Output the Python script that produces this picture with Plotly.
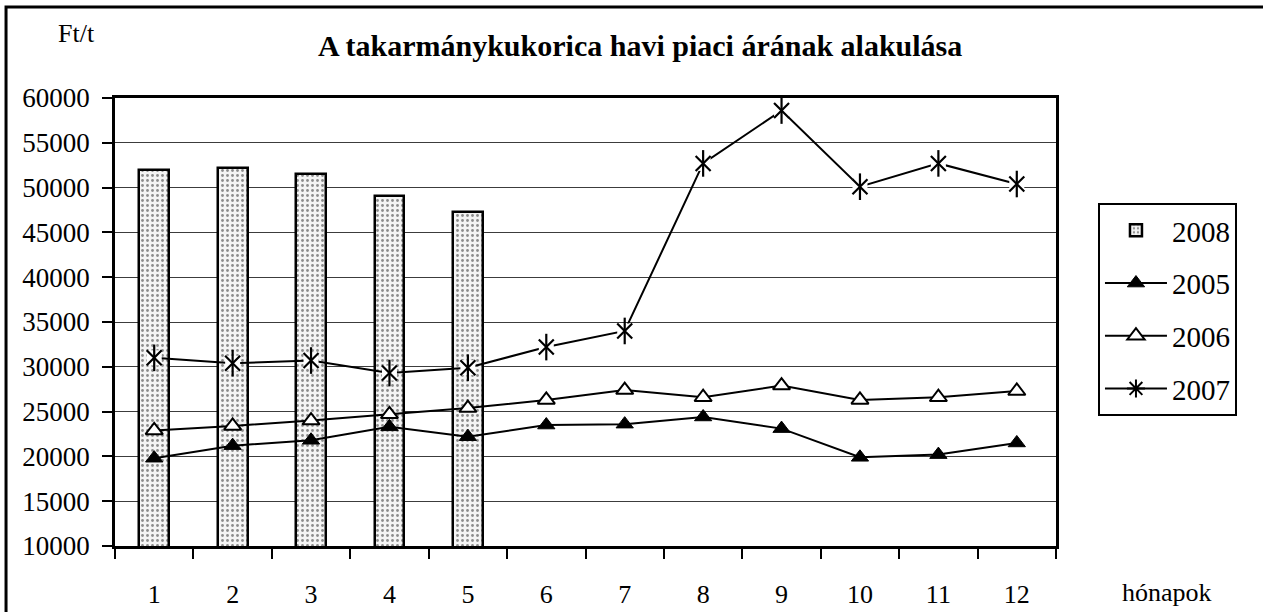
import plotly.graph_objects as go

months = [str(m) for m in range(1, 13)]
bar_months = months[:5]
v2008 = [52000, 52200, 51500, 49100, 47300]
v2005 = [19800, 21200, 21800, 23300, 22200, 23500, 23600, 24400, 23100, 19900, 20200, 21500]
v2006 = [22900, 23400, 24000, 24700, 25400, 26300, 27400, 26600, 27900, 26300, 26600, 27300]
v2007 = [31000, 30400, 30700, 29300, 29900, 32200, 34000, 52700, 58600, 50100, 52700, 50400]
y_ticks = [10000, 15000, 20000, 25000, 30000, 35000, 40000, 45000, 50000, 55000, 60000]

FONT = "Liberation Serif"
DOTS = dict(shape=".", fgcolor="#222", bgcolor="#f4f4f4", size=5, solidity=0.25)

fig = go.Figure()
fig.add_trace(go.Bar(
    x=bar_months, y=v2008, name="2008", width=0.38, legendgroup="g2008",
    marker=dict(color="white", line=dict(color="black", width=2.5), pattern=DOTS),
))
fig.add_trace(go.Scatter(
    x=months, y=v2005, name="2005", mode="lines+markers", legendgroup="g2005",
    line=dict(color="black", width=2),
    marker=dict(symbol="triangle-up", size=15, color="black", line=dict(color="black", width=1)),
))
fig.add_trace(go.Scatter(
    x=months, y=v2006, name="2006", mode="lines+markers", legendgroup="g2006",
    line=dict(color="black", width=2),
    marker=dict(symbol="triangle-up", size=15, color="white", line=dict(color="black", width=2)),
))
# 2007: line, white background behind marker, X and vertical bar
fig.add_trace(go.Scatter(
    x=months, y=v2007, name="2007", mode="lines", showlegend=False, legendgroup="g2007",
    line=dict(color="black", width=2),
))
fig.add_trace(go.Scatter(
    x=months, y=v2007, mode="markers", showlegend=False, hoverinfo="skip", legendgroup="g2007",
    marker=dict(symbol="square", size=15, color="white", line=dict(width=0)),
))
fig.add_trace(go.Scatter(
    x=months, y=v2007, mode="markers", showlegend=False, legendgroup="g2007",
    marker=dict(symbol="x-thin-open", size=15, color="black", line=dict(color="black", width=2.2)),
))
fig.add_trace(go.Scatter(
    x=months, y=v2007, mode="markers", showlegend=False, hoverinfo="skip", legendgroup="g2007",
    marker=dict(symbol="line-ns-open", size=19, color="black", line=dict(color="black", width=2.2)),
))
# legend entry for 2007
fig.add_trace(go.Scatter(
    x=[None], y=[None], name="2007", mode="lines+markers", legendgroup="g2007",
    line=dict(color="black", width=2),
    marker=dict(symbol="asterisk-open", size=15, color="black", line=dict(color="black", width=2)),
))

fig.update_layout(
    width=1263, height=612,
    margin=dict(l=115, r=207, t=98, b=66, autoexpand=False),
    paper_bgcolor="white", plot_bgcolor="white",
    font=dict(family=FONT, size=26, color="black"),
    showlegend=True,
    bargap=0,
    legend=dict(
        x=1.0446, y=0.7656, xanchor="left", yanchor="top",
        bordercolor="black", borderwidth=2, bgcolor="white",
        font=dict(family=FONT, size=29, color="black"),
        itemwidth=62, tracegroupgap=12,
        traceorder="grouped",
    ),
    xaxis=dict(
        type="category", categoryorder="array", categoryarray=months,
        range=[-0.5, 11.5], autorange=False,
        tickson="boundaries", ticks="outside", ticklen=10, tickwidth=2, tickcolor="black",
        showline=True, linecolor="black", linewidth=2.5, mirror=True,
        showgrid=False, zeroline=False, ticklabelstandoff=23, automargin=False,
        tickfont=dict(family=FONT, size=26),
    ),
    yaxis=dict(
        range=[10000, 60000], tickvals=y_ticks, tickformat="d",
        ticks="outside", ticklen=10, tickwidth=2, tickcolor="black",
        showline=True, linecolor="black", linewidth=2.5, mirror=True,
        showgrid=True, gridcolor="#3c3c3c", gridwidth=1, zeroline=False,
        ticklabelstandoff=7, automargin=False,
        tickfont=dict(family=FONT, size=27),
    ),
    annotations=[
        dict(text="<b>A takarmánykukorica havi piaci árának alakulása</b>", xref="paper", yref="paper",
             x=0.558, y=1.118, xanchor="center", yanchor="middle", showarrow=False,
             font=dict(family=FONT, size=30)),
        dict(text="Ft/t", xref="paper", yref="paper", x=-0.0414, y=1.145,
             xanchor="center", yanchor="middle", showarrow=False, font=dict(family=FONT, size=26)),
        dict(text="hónapok", xref="paper", yref="paper", x=1.118, y=-0.1027,
             xanchor="center", yanchor="middle", showarrow=False, font=dict(family=FONT, size=26)),
    ],
    shapes=[
        dict(type="rect", xref="paper", yref="paper", x0=-0.1158, y0=-0.4, x1=1.4, y1=1.2031,
             line=dict(color="black", width=3), fillcolor="rgba(0,0,0,0)", layer="above"),
    ],
)

fig.write_html("out.html", config={"displayModeBar": False},
               post_script="document.body.style.margin='0';document.body.style.padding='0';")
